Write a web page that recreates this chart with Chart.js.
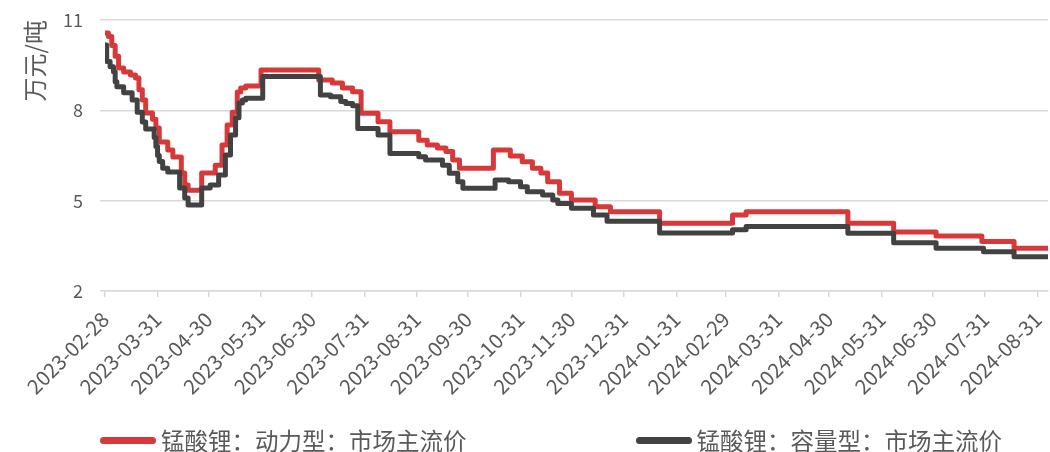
<!DOCTYPE html>
<html>
<head>
<meta charset="utf-8">
<script src="https://cdn.jsdelivr.net/npm/chart.js@4/dist/chart.umd.min.js"></script>
<style>
  html, body { margin: 0; padding: 0; background: #ffffff; }
  #wrap { position: relative; width: 1050px; height: 452px; }
  #legend { position: absolute; left: 100px; top: 426px; width: 902px; height: 28px;
            display: flex; justify-content: space-between; align-items: center;
            font-family: "Noto Sans CJK SC", "Noto Sans", sans-serif; font-size: 23.5px; color: #595959; }
  .item { display: flex; align-items: center; white-space: nowrap; }
  .box { display: inline-block; width: 56px; height: 7px; border-radius: 3.5px; margin-right: 5px; }
</style>
</head>
<body>
<div id="wrap">
  <canvas id="c" width="1050" height="452"></canvas>
  <div id="legend"></div>
</div>
<script>
// ---- data ----
const xTickLabels = ['2023-02-28','2023-03-31','2023-04-30','2023-05-31','2023-06-30','2023-07-31','2023-08-31','2023-09-30','2023-10-31','2023-11-30','2023-12-31','2024-01-31','2024-02-29','2024-03-31','2024-04-30','2024-05-31','2024-06-30','2024-07-31','2024-08-31'];
const xStart = '2023-02-28';
const xEnd = '2024-09-06';

const seriesNames = ['锰酸锂：动力型：市场主流价', '锰酸锂：容量型：市场主流价'];
const yTitle = '万元/吨';

const powerDates = ['2023-02-28','2023-03-02','2023-03-04','2023-03-06','2023-03-08','2023-03-11','2023-03-15','2023-03-18','2023-03-20','2023-03-22','2023-03-24','2023-03-28','2023-03-30','2023-04-01','2023-04-06','2023-04-09','2023-04-14','2023-04-16','2023-04-18','2023-04-26','2023-05-04','2023-05-08','2023-05-11','2023-05-14','2023-05-17','2023-05-19','2023-05-22','2023-05-31','2023-07-04','2023-07-12','2023-07-18','2023-07-24','2023-07-29','2023-08-08','2023-08-15','2023-09-01','2023-09-06','2023-09-12','2023-09-17','2023-09-21','2023-09-25','2023-10-15','2023-10-25','2023-11-01','2023-11-07','2023-11-12','2023-11-16','2023-11-23','2023-11-30','2023-12-14','2023-12-23','2024-01-21','2024-03-04','2024-03-12','2024-05-11','2024-06-07','2024-07-02','2024-07-29','2024-08-17','2024-09-06'];
const powerValues = [10.57,10.45,10.15,9.8,9.41,9.27,9.17,9.07,8.68,8.34,7.91,7.7,7.41,6.95,6.68,6.45,5.92,5.52,5.35,5.92,6.18,6.85,7.51,7.94,8.61,8.74,8.81,9.34,9.01,8.91,8.74,8.62,7.90,7.62,7.29,7.01,6.85,6.75,6.63,6.35,6.08,6.68,6.48,6.29,6.08,5.92,5.63,5.25,5.02,4.80,4.63,4.25,4.52,4.63,4.25,3.96,3.83,3.64,3.42,3.42];

const capDates = ['2023-02-28','2023-03-01','2023-03-03','2023-03-05','2023-03-06','2023-03-07','2023-03-11','2023-03-16','2023-03-19','2023-03-22','2023-03-24','2023-03-29','2023-03-30','2023-03-31','2023-04-01','2023-04-03','2023-04-06','2023-04-13','2023-04-16','2023-04-18','2023-04-26','2023-05-01','2023-05-06','2023-05-10','2023-05-13','2023-05-16','2023-05-18','2023-05-20','2023-05-22','2023-06-01','2023-07-05','2023-07-11','2023-07-17','2023-07-20','2023-07-24','2023-07-27','2023-08-08','2023-08-15','2023-09-01','2023-09-05','2023-09-15','2023-09-19','2023-09-24','2023-09-27','2023-10-16','2023-10-24','2023-10-31','2023-11-04','2023-11-13','2023-11-19','2023-11-22','2023-11-30','2023-12-13','2023-12-21','2024-01-21','2024-03-04','2024-03-12','2024-05-11','2024-06-07','2024-07-02','2024-07-30','2024-08-17','2024-09-06'];
const capValues = [10.17,9.62,9.45,9.28,8.95,8.78,8.58,8.34,7.94,7.61,7.38,7.1,6.8,6.5,6.3,6.08,5.95,5.42,5.09,4.86,5.42,5.52,5.85,6.52,7.18,7.75,8.24,8.34,8.40,9.12,8.51,8.45,8.29,8.23,8.15,7.40,7.18,6.57,6.46,6.35,6.18,5.91,5.63,5.41,5.69,5.63,5.46,5.30,5.19,5.02,4.91,4.75,4.52,4.32,3.93,4.03,4.14,3.92,3.60,3.42,3.30,3.14,3.14];

const yMin = 2, yMax = 11, yStep = 3;

// ---- helpers ----
function dayOf(s) {
  const p = s.split('-').map(Number);
  const b = xStart.split('-').map(Number);
  return (Date.UTC(p[0], p[1]-1, p[2]) - Date.UTC(b[0], b[1]-1, b[2])) / 86400000;
}
function pts(dates, vals) { return dates.map((d, i) => ({x: dayOf(d), y: vals[i]})); }
const tickDays = xTickLabels.map(dayOf);

const TEXT = '#595959';
const GRID = '#d9d9d9';
const FONT = '"Noto Sans CJK SC", "Noto Sans", sans-serif';

const chart = new Chart(document.getElementById('c'), {
  type: 'line',
  data: {
    datasets: [
      { label: seriesNames[0], data: pts(powerDates, powerValues), borderColor: '#d7393b', backgroundColor: '#d7393b',
        borderWidth: 5, pointRadius: 0, stepped: true, order: 1, borderJoinStyle: 'round', borderCapStyle: 'round' },
      { label: seriesNames[1], data: pts(capDates, capValues), borderColor: '#424242', backgroundColor: '#424242',
        borderWidth: 5, pointRadius: 0, stepped: true, order: 0, borderJoinStyle: 'round', borderCapStyle: 'round' }
    ]
  },
  options: {
    responsive: false,
    animation: false,
    layout: { padding: { left: 0, right: 2, top: 20, bottom: 0 } },
    plugins: { legend: { display: false }, tooltip: { enabled: false } },
    scales: {
      x: {
        type: 'linear',
        min: 0,
        max: dayOf(xEnd),
        afterBuildTicks: (s) => { s.ticks = tickDays.map(v => ({value: v})); },
        afterFit: (s) => { s.height = 161; s.paddingLeft = 0; s.paddingRight = 0; },
        ticks: {
          autoSkip: false, minRotation: 45, maxRotation: 45, padding: 10,
          color: TEXT, font: { family: FONT, size: 20.5 },
          callback: (v) => { const i = tickDays.indexOf(v); return i >= 0 ? xTickLabels[i] : ''; }
        },
        grid: { drawOnChartArea: false, drawTicks: true, tickLength: 6, color: GRID, lineWidth: 1.5 },
        border: { display: true, color: GRID, width: 1.5 }
      },
      y: {
        min: yMin, max: yMax,
        afterFit: (s) => { s.width = 105; s.paddingTop = 0; s.paddingBottom = 0; },
        ticks: { stepSize: yStep, padding: 17, color: TEXT, font: { family: FONT, size: 18 } },
        grid: { color: GRID, lineWidth: 1.5, tickLength: 5, drawTicks: true },
        border: { display: false },
        title: { display: true, text: yTitle, align: 'end', color: TEXT, padding: { top: 20, bottom: 0 },
                 font: { family: FONT, size: 24 } }
      }
    }
  }
});

// HTML legend built from the chart's datasets
const lg = document.getElementById('legend');
chart.data.datasets.forEach(ds => {
  const it = document.createElement('div'); it.className = 'item';
  const b = document.createElement('span'); b.className = 'box'; b.style.background = ds.borderColor;
  const t = document.createElement('span'); t.textContent = ds.label;
  it.appendChild(b); it.appendChild(t); lg.appendChild(it);
});
</script>
</body>
</html>
